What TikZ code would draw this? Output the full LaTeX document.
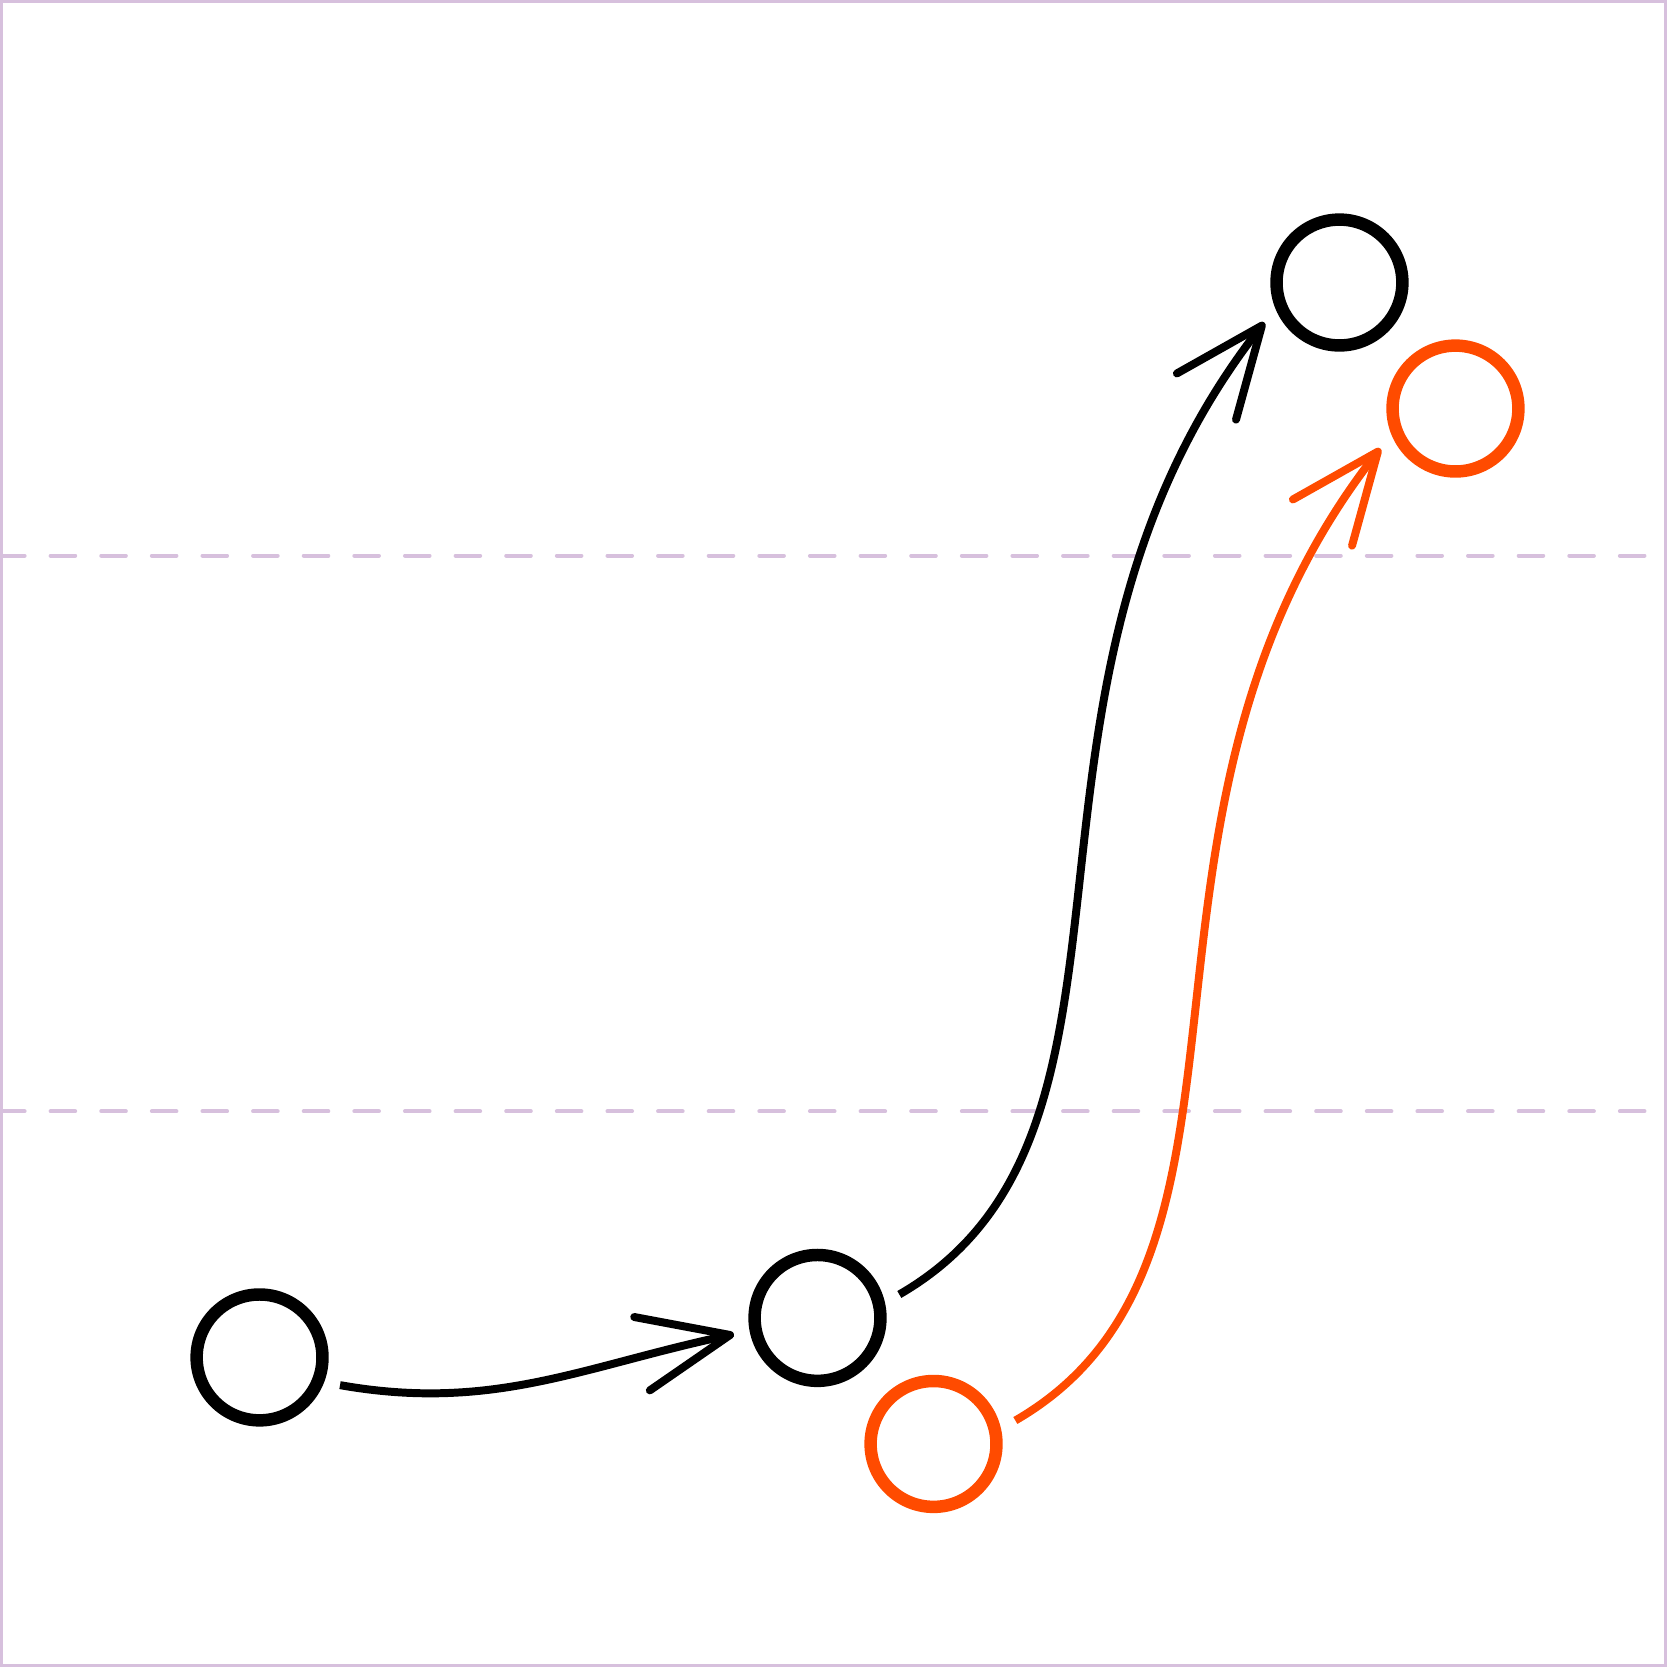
\documentclass[tikz,border=0pt]{standalone}
\usetikzlibrary{positioning}
\usetikzlibrary{arrows.meta}
\definecolor{flame}{RGB}{255,75,0}
\definecolor{lilac}{RGB}{215,192,221}

\tikzset{
  state/.style={circle, draw, line width=2.13pt, minimum size=0.755cm,
                inner sep=0pt, outer sep=0.133cm},
  link/.style={line width=1.36pt,
               -{Straight Barb[length=0.54cm, width=0.45cm, round]}},
  guide/.style={lilac, line width=0.68pt, line cap=round,
                dash pattern=on 4.2pt off 4.44pt},
  frame/.style={lilac, line width=0.46pt}
}

\begin{document}
\begin{tikzpicture}[on grid]
   \useasboundingbox (0,0) rectangle (10,10);
   \draw[frame] (0.008,0.008) rectangle (9.992,9.992);

   \draw[guide] (0,10/3) -- (10,10/3);
   \draw[guide] (0,20/3) -- (10,20/3);

   \node[state] (s1) at (1.557,1.857) {};
   \node[state, above right=0.237cm and 3.347cm of s1] (s2) {};
   \node[state, flame, below right=0.756cm and 0.696cm of s2] (s3) {};
   \node[state, above right=6.211cm and 3.131cm of s2] (s4) {};
   \node[state, flame, below right=0.756cm and 0.696cm of s4] (s5) {};

   \draw[link] (s1.-19) to[out=-10, in=192] (s2.191);
   \draw[link] (s2.16) .. controls +(30:1.95) and +(232:2.8) .. (s4.208);
   \draw[link, flame] (s3.16) .. controls +(30:1.95) and +(232:2.8) .. (s5.208);
\end{tikzpicture}
\end{document}
